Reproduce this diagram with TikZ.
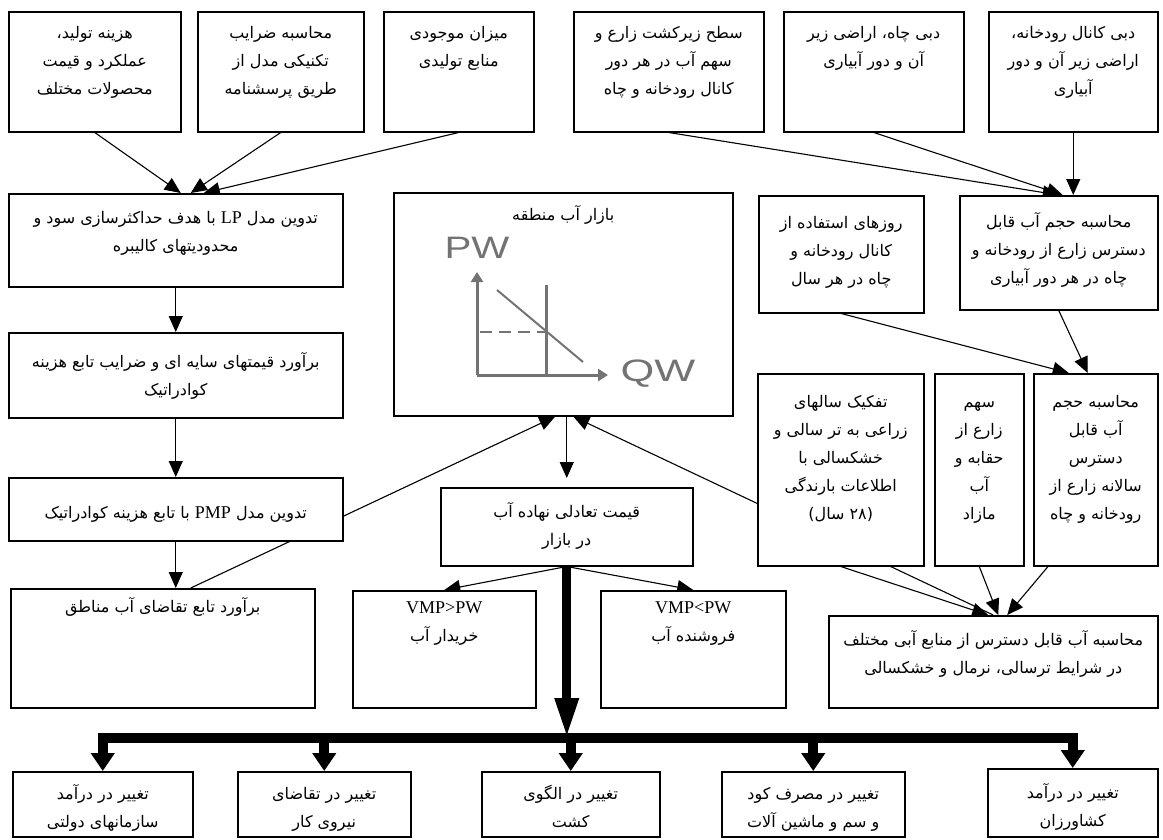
\documentclass[tikz,border=0pt]{standalone}
\usepackage{fontspec}
\setmainfont{Liberation Serif}
\newfontfamily\farsifont[Script=Arabic]{DejaVu Sans}
\newfontfamily\axisfont{Liberation Sans}
\usetikzlibrary{arrows.meta,backgrounds}
\TeXXeTstate=1

% one right-to-left line, and a latin word inside it
\newcommand{\rtlline}[1]{\beginR#1\endR}
\newcommand{\latinword}[1]{\beginL{\rmfamily\fontsize{18}{28}\selectfont #1}\endL}
% text of a box: first baseline, width, height, lines
\newcommand{\boxtext}[4][27pt]{\parbox[c][#3][t]{#2}{\centering\rule{0pt}{#1}#4}}

\begin{document}
\begin{tikzpicture}[
    x=1pt, y=-1pt,
    >={Triangle[length=16pt,width=14pt]},
    box/.style={
        draw,
        line width=1.5pt,
        fill=white,
        inner sep=0pt,
        anchor=north west,
        font=\farsifont\fontsize{16}{28}\selectfont
    },
    link/.style={->, line width=1.1pt},
    thick link/.style={-{Triangle[length=18pt,width=23pt]}, line width=10pt},
    curve/.style={black!55, line width=3pt},
    axislabel/.style={font=\axisfont\fontsize{31}{31}\selectfont, text=black!55, inner sep=0pt}
]
    \useasboundingbox (0,0) rectangle (1163,839);

    % ردیف بالا: داده ها
    \node[box] (cost) at (8,11) {\boxtext{172pt}{120pt}{\rtlline{هزینه تولید،}\\\rtlline{عملکرد و قیمت}\\\rtlline{محصولات مختلف}}};
    \node[box] (coef) at (197,11) {\boxtext{166pt}{120pt}{\rtlline{محاسبه ضرایب}\\\rtlline{تکنیکی مدل از}\\\rtlline{طریق پرسشنامه}}};
    \node[box] (resource) at (383,11) {\boxtext{150pt}{120pt}{\rtlline{میزان موجودی}\\\rtlline{منابع تولیدی}}};
    \node[box] (area) at (573,11) {\boxtext{190pt}{120pt}{\rtlline{سطح زیرکشت زارع و}\\\rtlline{سهم آب در هر دور}\\\rtlline{کانال رودخانه و چاه}}};
    \node[box] (well) at (783,11) {\boxtext{180pt}{120pt}{\rtlline{دبی چاه، اراضی زیر}\\\rtlline{آن و دور آبیاری}}};
    \node[box] (canal) at (988,11) {\boxtext{169pt}{120pt}{\rtlline{دبی کانال رودخانه،}\\\rtlline{اراضی زیر آن و دور}\\\rtlline{آبیاری}}};

    % ستون چپ: مدل
    \node[box] (lp) at (8,193) {\boxtext[30pt]{334pt}{93pt}{\rtlline{تدوین مدل \latinword{LP} با هدف حداکثرسازی سود و}\\\rtlline{محدودیتهای کالیبره}}};
    \node[box] (shadow) at (8,332) {\boxtext[35pt]{334pt}{85pt}{\rtlline{برآورد قیمتهای سایه ای و ضرایب تابع هزینه}\\\rtlline{کوادراتیک}}};
    \node[box] (pmp) at (8,477) {\boxtext[41pt]{334pt}{63pt}{\rtlline{تدوین مدل \latinword{PMP} با تابع هزینه کوادراتیک}}};
    \node[box] (demand) at (10,588) {\boxtext[24pt]{304pt}{119pt}{\rtlline{برآورد تابع تقاضای آب مناطق}}};

    % وسط: بازار
    \node[box] (market) at (393,192) {\boxtext[28pt]{339pt}{223pt}{\rtlline{بازار آب منطقه}}};
    \node[box] (price) at (440,487) {\boxtext[30pt]{252pt}{78pt}{\rtlline{قیمت تعادلی نهاده آب}\\\rtlline{در بازار}}};
    \node[box] (buyer) at (352,590) {\boxtext[23pt]{183pt}{117pt}{\latinword{VMP>PW}\\\rtlline{خریدار آب}}};
    \node[box] (seller) at (600,590) {\boxtext[23pt]{185pt}{117pt}{\latinword{VMP<PW}\\\rtlline{فروشنده آب}}};

    % ستون راست: آب قابل دسترس
    \node[box] (days) at (758,195) {\boxtext[33pt]{165pt}{117pt}{\rtlline{روزهای استفاده از}\\\rtlline{کانال رودخانه و}\\\rtlline{چاه در هر سال}}};
    \node[box] (vol) at (959,195) {\boxtext[32pt]{198pt}{114pt}{\rtlline{محاسبه حجم آب قابل}\\\rtlline{دسترس زارع از رودخانه و}\\\rtlline{چاه در هر دور آبیاری}}};
    \node[box] (split) at (757,373) {\boxtext[34pt]{166pt}{192pt}{\rtlline{تفکیک سالهای}\\\rtlline{زراعی به تر سالی و}\\\rtlline{خشکسالی با}\\\rtlline{اطلاعات بارندگی}\\\rtlline{(۲۸ سال)}}};
    \node[box] (share) at (934,373) {\boxtext[34pt]{89pt}{192pt}{\rtlline{سهم}\\\rtlline{زارع از}\\\rtlline{حقابه و}\\\rtlline{آب}\\\rtlline{مازاد}}};
    \node[box] (annual) at (1033,373) {\boxtext[34pt]{124pt}{192pt}{\rtlline{محاسبه حجم}\\\rtlline{آب قابل}\\\rtlline{دسترس}\\\rtlline{سالانه زارع از}\\\rtlline{رودخانه و چاه}}};
    \node[box] (avail) at (828,615) {\boxtext[30pt]{329pt}{92pt}{\rtlline{محاسبه آب قابل دسترس از منابع آبی مختلف}\\\rtlline{در شرایط ترسالی، نرمال و خشکسالی}}};

    % ردیف پایین: اثرات
    \node[box] (gov) at (12,771) {\boxtext[28pt]{180pt}{65pt}{\rtlline{تغییر در درآمد}\\\rtlline{سازمانهای دولتی}}};
    \node[box] (labor) at (237,771) {\boxtext[28pt]{173pt}{65pt}{\rtlline{تغییر در تقاضای}\\\rtlline{نیروی کار}}};
    \node[box] (pattern) at (481,771) {\boxtext[28pt]{178pt}{65pt}{\rtlline{تغییر در الگوی}\\\rtlline{کشت}}};
    \node[box] (input) at (721,771) {\boxtext[28pt]{183pt}{65pt}{\rtlline{تغییر در مصرف کود}\\\rtlline{و سم و ماشین آلات}}};
    \node[box] (farmer) at (987,768) {\boxtext[30pt]{170pt}{68pt}{\rtlline{تغییر در درآمد}\\\rtlline{کشاورزان}}};

    % نمودار بازار
    \draw[curve, -{Triangle[length=10pt,width=12pt]}] (477,375) -- (477,272);
    \draw[curve, -{Triangle[length=10pt,width=12pt]}] (477,375) -- (608,375);
    \draw[curve] (546,285) -- (546,375);
    \draw[curve, line width=2.5pt, dash pattern=on 12pt off 7pt] (480,332) -- (546,332);
    \draw[curve, line width=2pt] (497,290) -- (583,362);
    \node[axislabel] (pw) at (477,248) {\scalebox{1.3}[1]{PW}};
    \node[axislabel] (qw) at (658,374) {\scalebox{1.4}[1]{QW}};

    % پیکانها
    \begin{scope}[on background layer]
        \draw[link] (cost.south) -- ([xshift=5pt]lp.north);
        \draw[link] (coef.south) -- ([xshift=15pt]lp.north);
        \draw[link] (resource.south) -- ([xshift=28pt]lp.north);
        \draw[link] (area.south) -- (vol.north);
        \draw[link] (well.south) -- ([xshift=4pt]vol.north);
        \draw[link] (canal.south) -- (canal.south |- vol.north);

        \draw[link] (lp) -- (shadow);
        \draw[link] (shadow) -- (pmp);
        \draw[link] (pmp.south) -- (pmp.south |- demand.north);
        \draw[link] ([xshift=28pt]demand.north) -- ([xshift=-8pt]market.south);

        \draw[link, shorten >=9pt] (price.north |- market.south) -- (price.north);
        \draw[link] (price.south) -- (buyer.north);
        \draw[link] (price.south) -- (seller.north);

        \draw[link] (days.south) -- ([xshift=-27pt]annual.north);
        \draw[link] (vol.south) -- ([xshift=-8pt]annual.north);
        \draw[link] (split.south) -- ([xshift=-5pt]avail.north);
        \draw[link] (share.south) -- ([xshift=5pt]avail.north);
        \draw[link] ([xshift=15pt]annual.south west) -- ([xshift=14pt]avail.north);
        \draw[link] (avail.north) -- ([xshift=10pt]market.south);
    \end{scope}

    % پیکانهای ضخیم
    \coordinate (bus) at (0,738);
    \draw[-{Triangle[length=40pt,width=22pt]}, line width=9pt] (price.south) -- (price.south |- bus);
    \draw[line width=10pt] ([xshift=-5pt]gov.north |- bus) -- ([xshift=5pt]farmer.north |- bus);
    \foreach \n in {gov,labor,pattern,input,farmer}
        \draw[thick link] (\n.north |- bus) -- (\n.north);
\end{tikzpicture}
\end{document}
